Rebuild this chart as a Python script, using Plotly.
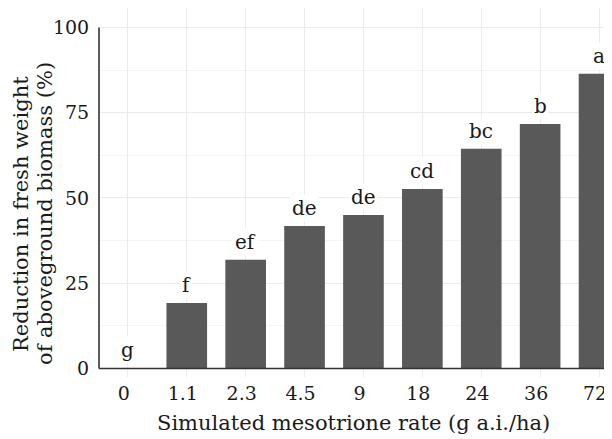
import plotly.graph_objects as go

categories = ["0", "1.1", "2.3", "4.5", "9", "18", "24", "36", "72"]
reduction = [0.0, 19.2, 31.9, 41.8, 45.0, 52.6, 64.4, 71.7, 86.4]
letters = ["g", "f", "ef", "de", "de", "cd", "bc", "b", "a"]
y_ticks = [0, 25, 50, 75, 100]
y_title_lines = ["Reduction in fresh weight", "of aboveground biomass (%)"]
x_title = "Simulated mesotrione rate (g a.i./ha)"

FONT = "DejaVu Serif"
TXT = "#1a1a1a"
# the page body adds an 8px offset; figure coords are shifted accordingly
W, H = 604, 431
ML, MR, MT, MB = 91, 0, 0, 62
pw = W - ML - MR
ph = H - MT - MB

xpos = list(range(len(categories)))

fig = go.Figure()
fig.add_trace(go.Bar(
    x=xpos, y=reduction, width=0.69,
    marker=dict(color="#595959", line=dict(width=0)),
    hoverinfo="skip",
))

for xi, v, lab in zip(xpos, reduction, letters):
    fig.add_annotation(
        x=xi, y=v, text=lab, showarrow=False, xref="x", yref="y",
        yanchor="bottom", yshift=4, bgcolor="white", borderpad=1,
        font=dict(family=FONT, size=20, color=TXT),
    )

# axis lines (y from 0 to 100, x along 0)
fig.add_shape(type="line", xref="paper", yref="y", x0=0, x1=0, y0=0, y1=100,
              line=dict(color="#333333", width=1.6), layer="above")
fig.add_shape(type="line", xref="paper", yref="y", x0=0, x1=1, y0=0, y1=0,
              line=dict(color="#333333", width=1.6), layer="above")

# y title: two lines as separate annotations
for cx, line in zip([13, 37], y_title_lines):
    fig.add_annotation(
        xref="paper", yref="paper", x=(cx - ML) / pw, y=(H - MB - 206) / ph,
        text=line, textangle=-90, showarrow=False,
        xanchor="center", yanchor="middle",
        font=dict(family=FONT, size=21, color=TXT),
    )

# x title
fig.add_annotation(
    xref="paper", yref="paper", x=(345.5 - ML) / pw, y=(H - MB - 415) / ph,
    text=x_title, showarrow=False, xanchor="center", yanchor="middle",
    font=dict(family=FONT, size=21, color=TXT),
)

fig.update_layout(
    width=W, height=H,
    margin=dict(l=ML, r=MR, t=MT, b=MB),
    paper_bgcolor="white", plot_bgcolor="white",
    showlegend=False,
    font=dict(family=FONT, size=19, color=TXT),
    xaxis=dict(
        range=[-0.49, 8.22],
        tickmode="array", tickvals=xpos, ticktext=categories,
        showgrid=True, gridcolor="#ebebeb", gridwidth=1,
        zeroline=False, showline=False,
        ticks="", ticklabelshift=-4, ticklabelstandoff=3,
        tickfont=dict(family=FONT, size=19, color=TXT),
    ),
    yaxis=dict(
        range=[-2.5, 105.7],
        tickmode="array", tickvals=y_ticks,
        showgrid=True, gridcolor="#ebebeb", gridwidth=1,
        minor=dict(tickvals=[12.5, 37.5, 62.5, 87.5], showgrid=True,
                   gridcolor="#f4f4f4", gridwidth=1),
        zeroline=False, showline=False,
        ticks="outside", ticklen=5, tickcolor="rgba(0,0,0,0)",
        tickfont=dict(family=FONT, size=19, color=TXT),
    ),
)

fig.write_html("out.html")
